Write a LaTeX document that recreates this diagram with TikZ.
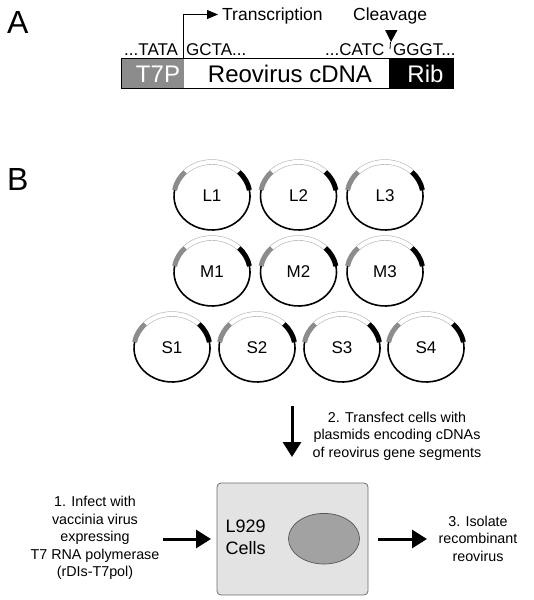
\documentclass[tikz,border=0pt]{standalone}
\usepackage{fontspec}
\setmainfont{Liberation Sans}
\usetikzlibrary{arrows.meta,shapes.geometric}
\definecolor{promgray}{HTML}{8C8C8C}
\definecolor{bandline}{HTML}{B4B4B4}
\definecolor{cellfill}{HTML}{E3E3E3}
\definecolor{celledge}{HTML}{6E6E6E}
\definecolor{nucfill}{HTML}{A2A2A2}
\definecolor{nucedge}{HTML}{555555}
\begin{document}
\begin{tikzpicture}[x=1pt,y=-1pt,
  panel/.style={font=\fontsize{32}{36}\selectfont, inner sep=0, anchor=base west},
  seq/.style={font=\fontsize{17}{20}\selectfont, inner sep=0, anchor=base west},
  barlabel/.style={font=\fontsize{24}{28}\selectfont, inner sep=0, anchor=base},
  toplabel/.style={font=\fontsize{17.5}{21}\selectfont, inner sep=0, anchor=base west},
  steptext/.style={font=\fontsize{14.3}{17.5}\selectfont, inner sep=0, align=center},
  bigarrow/.style={line width=3pt, -{Triangle[length=15pt,width=18pt]}},
  plasmid/.pic={
    \draw[bandline, line width=0.6pt, double=white, double distance=4.2pt]
      (225:38 and 34) arc[start angle=225, end angle=315, x radius=38, y radius=34];
    \draw[promgray, line width=5pt]
      (190:38 and 34) arc[start angle=190, end angle=225, x radius=38, y radius=34];
    \draw[black, line width=5pt]
      (315:38 and 34) arc[start angle=315, end angle=350, x radius=38, y radius=34];
    \draw[black, line width=1.6pt]
      (-10:38 and 34) arc[start angle=-10, end angle=190, x radius=38, y radius=34];
    \node[font=\fontsize{17}{20}\selectfont, inner sep=0] (-lab) at (0,0) {#1};
  }
]
\useasboundingbox (0,0) rectangle (534,600);

% ---------- Panel A ----------
\node[panel] (pA) at (7,33) {A};

\fill[promgray] (121,58) rectangle (184,88);
\fill[black] (389,58) rectangle (453,88);
\draw[black, line width=0.8pt] (121,58) rectangle (453,88);
\node[barlabel, text=white] (t7p) at (158,82) {T7P};
\node[barlabel] (cdna) at (290,82) {Reovirus cDNA};
\node[barlabel, text=white] (rib) at (425.5,82) {Rib};

\node[seq] (s1) at (124,55) {...TATA};
\node[seq] (s2) at (186,55) {GCTA...};
\node[seq] (s3) at (325,55) {...CATC};
\node[seq] (s4) at (393,55) {GGGT...};

\coordinate (tstart) at (183.3,58);
\coordinate (tcorner) at (183.3,14.5);
\coordinate (tend) at (218,14.5);
\draw[line width=1pt, -{Triangle[length=11pt,width=9pt]}] (tstart) -- (tcorner) -- (tend);
\node[toplabel] (trans) at (222,20) {Transcription};
\node[toplabel] (cleav) at (353,20) {Cleavage};

\fill[black] (385,30) -- (397.5,30) -- (391,42) -- cycle;
\coordinate (cut) at (390.5,42);
\coordinate (cutend) at (390,49);
\draw[line width=0.8pt] (cut) -- (cutend);

% ---------- Panel B ----------
\node[panel] (pB) at (7,190) {B};

\pic (L1) at (212,196) {plasmid=L1};
\pic (L2) at (298.5,196) {plasmid=L2};
\pic (L3) at (385,196) {plasmid=L3};
\pic (M1) at (212,272) {plasmid=M1};
\pic (M2) at (298.5,272) {plasmid=M2};
\pic (M3) at (385,272) {plasmid=M3};
\pic (S1) at (172,348) {plasmid=S1};
\pic (S2) at (257,348) {plasmid=S2};
\pic (S3) at (342,348) {plasmid=S3};
\pic (S4) at (426,348) {plasmid=S4};

% down arrow and step 2
\coordinate (dtop) at (292,406);
\coordinate (dbot) at (292,457);
\draw[bigarrow] (dtop) -- (dbot);
\node[steptext] (step2) at (397,436) {2. Transfect cells with\\plasmids encoding cDNAs\\of reovirus gene segments};

% cell box
\node[draw=celledge, fill=cellfill, line width=0.8pt, rounded corners=4pt,
      minimum width=151pt, minimum height=112pt, inner sep=0] (cell) at (292.5,539) {};
\node[draw=nucedge, fill=nucfill, line width=0.7pt, ellipse, minimum width=71pt,
      minimum height=50.6pt, inner sep=0] (nuc) at (324,538.7) {};
\node[font=\fontsize{18}{22}\selectfont, inner sep=0, align=left, anchor=west] (l929) at (225.5,537.5) {L929\\Cells};

% step 1
\node[steptext] (step1) at (95,538) {1. Infect with\\vaccinia virus\\expressing\\T7 RNA polymerase\\(rDIs-T7pol)};
\coordinate (lstart) at (163,539);
\coordinate (lend) at (211,539);
\draw[bigarrow] (lstart) -- (lend);

% step 3
\node[steptext] (step3) at (478,538.5) {3. Isolate\\recombinant\\reovirus};
\coordinate (rstart) at (378,539);
\coordinate (rend) at (427,539);
\draw[bigarrow] (rstart) -- (rend);
\end{tikzpicture}
\end{document}
